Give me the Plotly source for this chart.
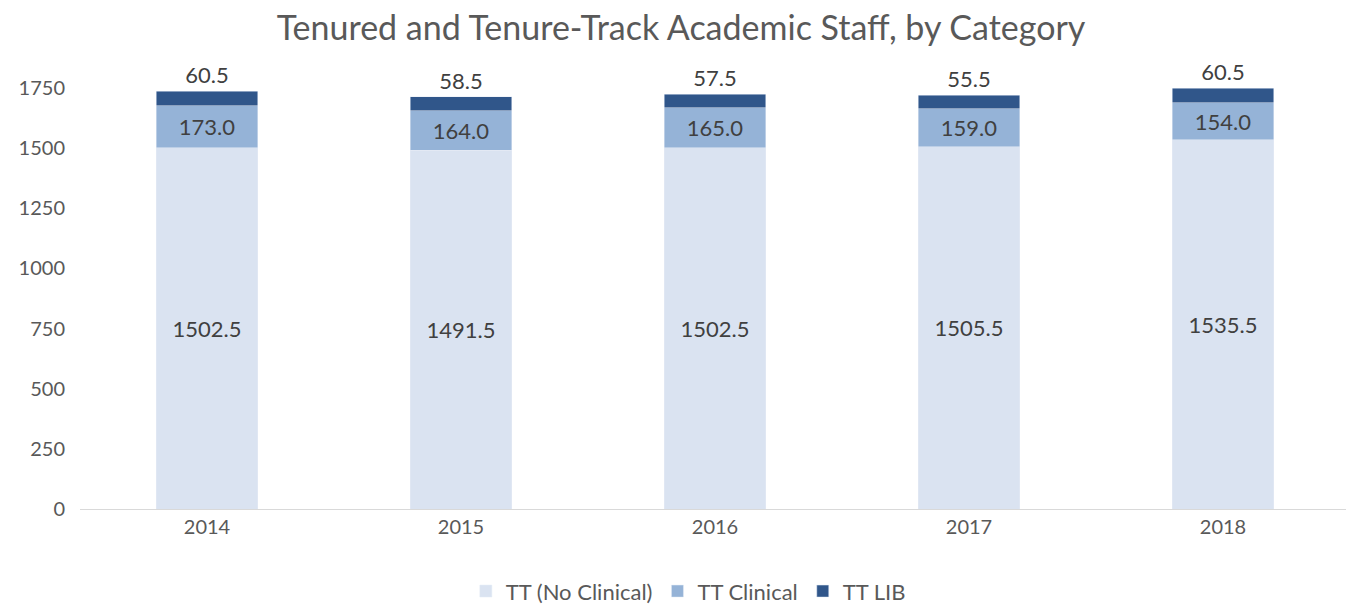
import plotly.graph_objects as go

years = ["2014", "2015", "2016", "2017", "2018"]
no_clinical = [1502.5, 1491.5, 1502.5, 1505.5, 1535.5]
clinical = [173.0, 164.0, 165.0, 159.0, 154.0]
lib = [60.5, 58.5, 57.5, 55.5, 60.5]

font = "Lato, 'Open Sans', sans-serif"
fig = go.Figure()
fig.add_bar(x=years, y=no_clinical, name="TT (No Clinical)", marker_color="#DAE3F1",
            texttemplate="%{y:.1f}", textposition="inside", insidetextanchor="middle",
            textfont=dict(size=22, color="#404040", family=font))
fig.add_bar(x=years, y=clinical, name="TT Clinical", marker_color="#95B3D7",
            texttemplate="%{y:.1f}", textposition="inside", insidetextanchor="middle",
            textfont=dict(size=22, color="#404040", family=font))
fig.add_bar(x=years, y=lib, name="TT LIB", marker_color="#30568A",
            texttemplate="%{y:.1f}", textposition="outside",
            textfont=dict(size=22, color="#404040", family=font), cliponaxis=False)

fig.update_layout(
    barmode="stack", bargap=0.6,
    width=1346, height=598,
    margin=dict(l=72, r=4, t=68, b=97, autoexpand=False),
    paper_bgcolor="white", plot_bgcolor="white",
    font=dict(family=font, color="#595959", size=20),
    title=dict(text="Tenured and Tenure-Track Academic Staff, by Category",
               x=0.5, xanchor="center", y=0.966, yanchor="middle",
               font=dict(size=34, color="#595959", family=font)),
    legend=dict(orientation="h", x=0.479, xanchor="center", y=-0.19, yanchor="middle",
                font=dict(size=22, color="#595959"), traceorder="normal"),
    uniformtext=dict(mode=False),
)
fig.update_xaxes(showline=True, linecolor="#D9D9D9", linewidth=1, ticks="", automargin=False,
                 tickfont=dict(size=20, color="#595959"))
fig.update_yaxes(range=[0, 1800], tickvals=[0, 250, 500, 750, 1000, 1250, 1500, 1750],
                 showgrid=False, zeroline=False, showline=False, ticks="", automargin=False,
                 tickfont=dict(size=20, color="#595959"), ticklabelstandoff=14)
fig.write_html("out.html")
